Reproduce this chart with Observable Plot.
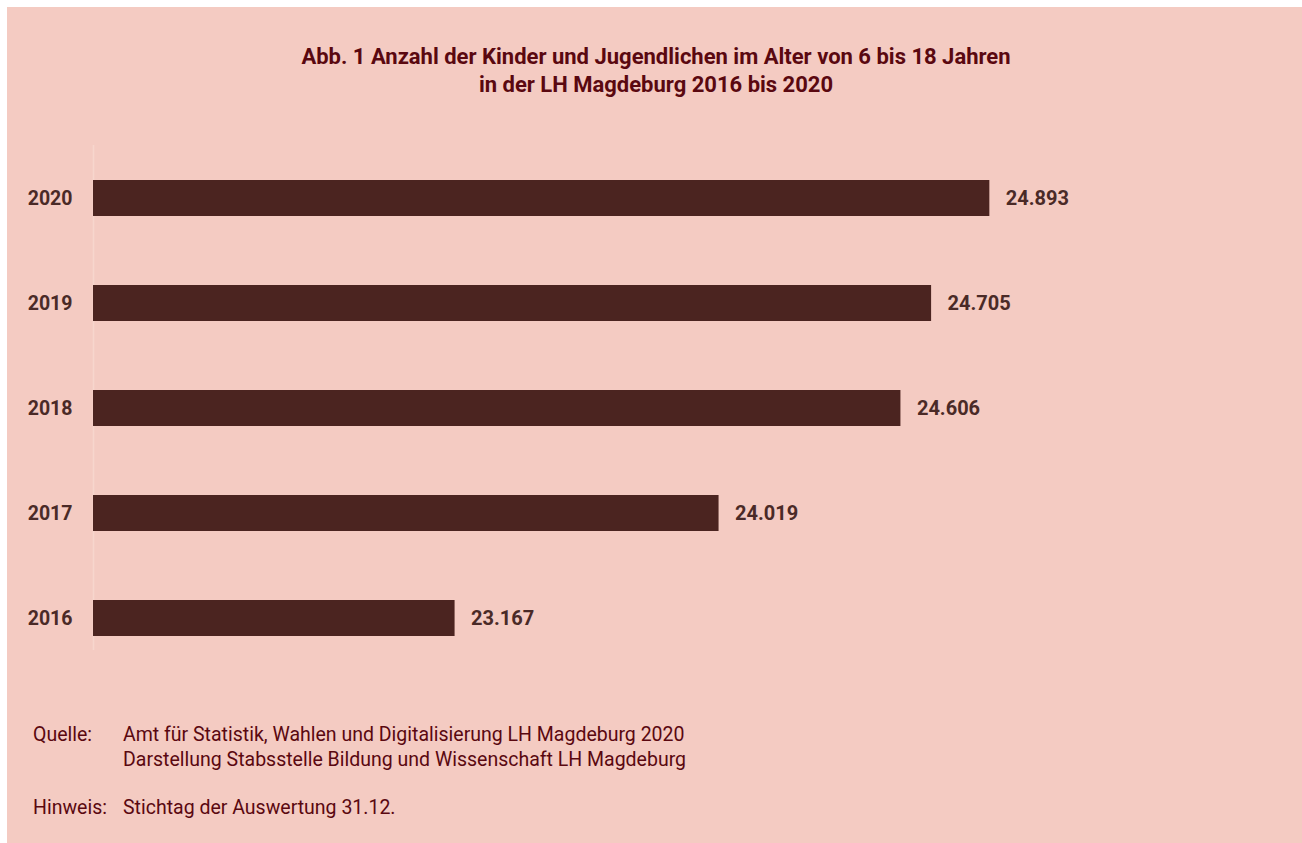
<!DOCTYPE html>
<html>
<head>
<meta charset="utf-8">
<script src="https://cdn.jsdelivr.net/npm/d3@7"></script>
<script src="https://cdn.jsdelivr.net/npm/@observablehq/plot@0.6"></script>
<style>
  html, body { margin: 0; padding: 0; background: #ffffff; overflow: hidden; }
  #panel { position: absolute; left: 7px; top: 7px; width: 1295px; height: 836px; background: #f4cbc2; }
  #title { position: absolute; left: 0; top: 43px; width: 1312px; text-align: center;
    font-family: Roboto, sans-serif; font-weight: bold; font-size: 22px;
    line-height: 28px; color: #5a0810; }
  #chart { position: absolute; left: 7px; top: 100px; }
  .cap { position: absolute; font-family: Roboto, sans-serif; font-size: 19.5px;
    line-height: 25px; color: #5a0810; white-space: nowrap; }
</style>
</head>
<body>
<div id="panel"></div>
<div id="title">Abb. 1 Anzahl der Kinder und Jugendlichen im Alter von 6 bis 18 Jahren<br>in der LH Magdeburg 2016 bis 2020</div>
<div id="chart"></div>
<div class="cap" style="left:33px; top:722px;">Quelle:</div>
<div class="cap" style="left:123px; top:722px;">Amt für Statistik, Wahlen und Digitalisierung LH Magdeburg 2020<br>Darstellung Stabsstelle Bildung und Wissenschaft LH Magdeburg</div>
<div class="cap" style="left:33px; top:795px;">Hinweis:</div>
<div class="cap" style="left:123px; top:795px;">Stichtag der Auswertung 31.12.</div>
<script>
const years = ["2016", "2017", "2018", "2019", "2020"];
const values = [23167, 24019, 24606, 24705, 24893];
const yearOrder = ["2020", "2019", "2018", "2017", "2016"];
const xDomain = [22000, 25000];

const data = years.map((y, i) => ({year: y, value: values[i]}));
const de = d3.formatLocale({decimal: ",", thousands: ".", grouping: [3], currency: ["", " €"]});
const fmt = de.format(",d");

const chart = Plot.plot({
  width: 1295,
  height: 620,
  marginLeft: 86,
  marginRight: 279.5,
  marginTop: 11,
  marginBottom: 15,
  style: {background: "transparent", fontFamily: "Roboto, sans-serif"},
  x: {domain: xDomain, axis: null},
  y: {domain: yearOrder, padding: 0.657, label: null},
  marks: [
    Plot.ruleX([xDomain[0]], {stroke: "#f7d6cd", strokeWidth: 1.5, insetTop: 34, insetBottom: 55}),
    Plot.barX(data, {x1: xDomain[0], x2: "value", y: "year", fill: "#4b2420"}),
    Plot.text(data, {x: "value", y: "year", text: d => fmt(d.value), textAnchor: "start", dx: 16,
      fill: "#4a2a27", fontWeight: "bold", fontSize: 20}),
    Plot.axisY({tickSize: 0, tickPadding: 21, fontSize: 19.5, fontWeight: "bold", color: "#4a2a27", label: null})
  ]
});
document.getElementById("chart").appendChild(chart);
</script>
</body>
</html>
